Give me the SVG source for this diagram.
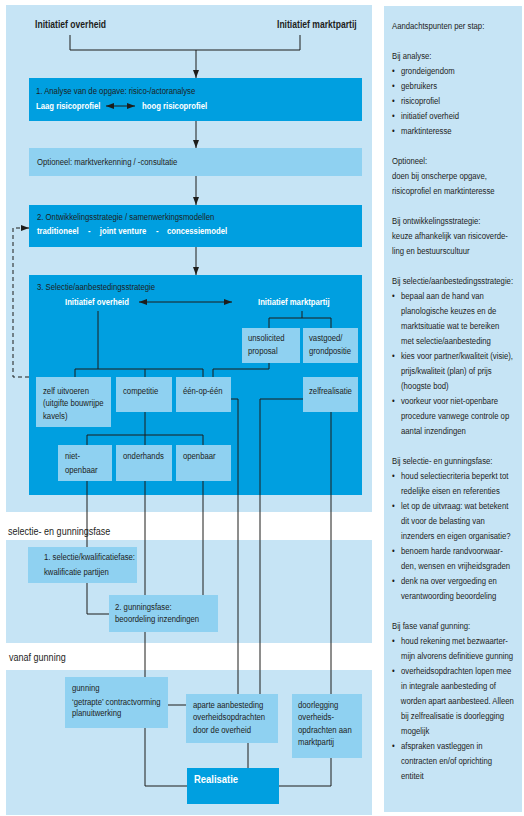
<svg xmlns="http://www.w3.org/2000/svg" width="524" height="816" viewBox="0 0 524 816">
<style>
text{font-family:"Liberation Sans",Arial,sans-serif;font-size:9px;fill:#1d1d1b;transform-box:fill-box;transform-origin:0 50%;transform:scaleX(0.86)}
.w{fill:#fff;font-weight:bold}
.b{font-weight:bold}
.lbl{font-size:10.5px}
.top{font-size:10px}
.panel{fill:#c6e4f5}
.dk{fill:#009fe0}
.lt{fill:#8fd1f1}
.ln{fill:none;stroke:#1d1d1b;stroke-width:1}
.ar{marker-end:url(#ah)}
.dbl{marker-start:url(#ah);marker-end:url(#ah)}
</style>
<defs>
<marker id="ah" viewBox="0 0 8 6" refX="8" refY="3" markerWidth="8" markerHeight="6" markerUnits="userSpaceOnUse" orient="auto-start-reverse"><path d="M0,0 L8,3 L0,6 z" fill="#1d1d1b"/></marker>
</defs>
<rect width="524" height="816" fill="#fff"/>
<!-- panels -->
<rect class="panel" x="6" y="5" width="366" height="507"/>
<rect class="panel" x="6" y="540" width="366" height="103"/>
<rect class="panel" x="6" y="670" width="366" height="145"/>
<rect class="panel" x="384" y="6" width="138" height="806"/>
<text class="lbl" x="8" y="535">selectie- en gunningsfase</text>
<text class="lbl" x="9" y="661">vanaf gunning</text>

<g id="start">
<text class="b top" x="35" y="28">Initiatief overheid</text>
<text class="b top" x="277" y="28">Initiatief marktpartij</text>
</g>

<g id="analyse">
<rect class="dk" x="29" y="78" width="333" height="43"/>
<text x="36" y="94">1. Analyse van de opgave: risico-/actoranalyse</text>
<text class="w" x="36" y="109">Laag risicoprofiel</text>
<text class="w" x="142" y="109">hoog risicoprofiel</text>
</g>

<g id="optioneel">
<rect class="lt" x="29" y="148" width="333" height="28"/>
<text x="37" y="165">Optioneel: marktverkenning / -consultatie</text>
</g>

<g id="ontwikkeling">
<rect class="dk" x="29" y="205" width="333" height="42"/>
<text x="37" y="220">2. Ontwikkelingsstrategie / samenwerkingsmodellen</text>
<text class="w" x="37" y="234.5">traditioneel</text>
<text class="w" x="88" y="234.5">-</text>
<text class="w" x="100" y="234.5">joint venture</text>
<text class="w" x="156" y="234.5">-</text>
<text class="w" x="167" y="234.5">concessiemodel</text>
</g>

<g id="selectie">
<rect class="dk" x="29" y="275" width="333" height="220"/>
<text x="37" y="290">3. Selectie/aanbestedingsstrategie</text>
<text class="w" x="65" y="305.5">Initiatief overheid</text>
<text class="w" x="258" y="305.5">Initiatief marktpartij</text>
</g>

<g id="unsolicited">
<rect class="lt" x="242" y="328" width="58" height="35"/>
<text x="248" y="341.5">unsolicited</text>
<text x="248" y="354.5">proposal</text>
</g>
<g id="vastgoed">
<rect class="lt" x="303" y="328" width="55" height="35"/>
<text x="309" y="341.5">vastgoed/</text>
<text x="309" y="354.5">grondpositie</text>
</g>
<g id="zelfuitvoeren">
<rect class="lt" x="36" y="377" width="75" height="50"/>
<text x="43" y="394">zelf uitvoeren</text>
<text x="43" y="406.5">(uitgifte bouwrijpe</text>
<text x="43" y="419">kavels)</text>
</g>
<g id="competitie">
<rect class="lt" x="116" y="377" width="56" height="35"/>
<text x="123" y="394">competitie</text>
</g>
<g id="eenopeen">
<rect class="lt" x="176" y="377" width="55" height="35"/>
<text x="183" y="394">één-op-één</text>
</g>
<g id="zelfrealisatie">
<rect class="lt" x="303" y="377" width="55" height="35"/>
<text x="309" y="394">zelfrealisatie</text>
</g>
<g id="nietopenbaar">
<rect class="lt" x="58" y="445" width="54" height="36"/>
<text x="65" y="459">niet-</text>
<text x="65" y="473">openbaar</text>
</g>
<g id="onderhands">
<rect class="lt" x="116" y="445" width="56" height="36"/>
<text x="123" y="459">onderhands</text>
</g>
<g id="openbaar">
<rect class="lt" x="176" y="445" width="55" height="36"/>
<text x="183" y="459">openbaar</text>
</g>

<g id="kwalificatie">
<rect class="lt" x="28" y="547" width="109" height="36"/>
<text x="44" y="560.5">1. selectie/kwalificatiefase:</text>
<text x="44" y="575.5">kwalificatie partijen</text>
</g>
<g id="gunningsfase">
<rect class="lt" x="109" y="595" width="109" height="37"/>
<text x="115" y="610">2. gunningsfase:</text>
<text x="115" y="622.5">beoordeling inzendingen</text>
</g>

<g id="gunning">
<rect class="lt" x="65" y="677" width="103" height="51"/>
<text x="72" y="691.5">gunning</text>
<text x="72" y="705">‘getrapte’ contractvorming</text>
<text x="72" y="716.5">planuitwerking</text>
</g>
<g id="aparte">
<rect class="lt" x="186" y="694" width="92" height="49"/>
<text x="193" y="708">aparte aanbesteding</text>
<text x="193" y="720.5">overheidsopdrachten</text>
<text x="193" y="733">door de overheid</text>
</g>
<g id="doorlegging">
<rect class="lt" x="292" y="694" width="70" height="64"/>
<text x="298" y="708">doorlegging</text>
<text x="298" y="720.5">overheids-</text>
<text x="298" y="733">opdrachten aan</text>
<text x="298" y="745.5">marktpartij</text>
</g>
<g id="realisatie">
<rect class="dk" x="187" y="768" width="92" height="36"/>
<text class="w" x="194" y="783" style="font-size:11px">Realisatie</text>
</g>

<g id="connectors">
<path class="ln" d="M70,35 V50 H300 V35"/>
<path class="ln ar" d="M196,50 V78"/>
<path class="ln ar" d="M196,121 V148"/>
<path class="ln ar" d="M196,176 V205"/>
<path class="ln ar" d="M196,247 V275"/>
<path class="ln" d="M29,377 H13 V228 H22" stroke-dasharray="4,3"/>
<path class="ln ar" d="M21,228 H29"/>
<path class="ln" d="M98,311 V369 M75,377 V369 H203 V377 M145,369 V377"/>
<path class="ln" d="M302,311 V318 M269,328 V318 H331 V328"/>
<path class="ln" d="M269,363 V369 H213 V377"/>
<path class="ln" d="M145,412 V435 M87,445 V435 H203 V445 M145,435 V445"/>
<path class="ln" d="M231,399 H238 V694"/>
<path class="ln" d="M303,399 H260 V694"/>
<path class="ln" d="M331,412 V694"/>
<path class="ln" d="M87,481 V547"/>
<path class="ln" d="M145,481 V595"/>
<path class="ln" d="M203,481 V595"/>
<path class="ln" d="M87,583 V614 H109"/>
<path class="ln" d="M145,632 V677"/>
<path class="ln" d="M168,705 H186"/>
<path class="ln" d="M248,743 V768"/>
<path class="ln" d="M145,728 V786 H187"/>
<path class="ln" d="M331,758 V786 H279"/>
<path class="ln dbl" d="M106,106 H135"/>
<path class="ln dbl" d="M139,302 H232"/>
</g>

<g id="aandachtspunten">
<text x="392" y="29">Aandachtspunten per stap:</text>
<text x="392" y="59">Bij analyse:</text>
<text x="392" y="74">•</text><text x="401" y="74">grondeigendom</text>
<text x="392" y="89">•</text><text x="401" y="89">gebruikers</text>
<text x="392" y="104">•</text><text x="401" y="104">risicoprofiel</text>
<text x="392" y="119">•</text><text x="401" y="119">initiatief overheid</text>
<text x="392" y="134">•</text><text x="401" y="134">marktinteresse</text>
<text x="392" y="164">Optioneel:</text>
<text x="392" y="179">doen bij onscherpe opgave,</text>
<text x="392" y="194">risicoprofiel en marktinteresse</text>
<text x="392" y="224">Bij ontwikkelingsstrategie:</text>
<text x="392" y="239">keuze afhankelijk van risicoverde-</text>
<text x="392" y="254">ling en bestuurscultuur</text>
<text x="392" y="284">Bij selectie/aanbestedingsstrategie:</text>
<text x="392" y="299">•</text><text x="401" y="299">bepaal aan de hand van</text>
<text x="401" y="314">planologische keuzes en de</text>
<text x="401" y="329">marktsituatie wat te bereiken</text>
<text x="401" y="344">met selectie/aanbesteding</text>
<text x="392" y="359">•</text><text x="401" y="359">kies voor partner/kwaliteit (visie),</text>
<text x="401" y="374">prijs/kwaliteit (plan) of prijs</text>
<text x="401" y="389">(hoogste bod)</text>
<text x="392" y="404">•</text><text x="401" y="404">voorkeur voor niet-openbare</text>
<text x="401" y="419">procedure vanwege controle op</text>
<text x="401" y="434">aantal inzendingen</text>
<text x="392" y="464">Bij selectie- en gunningsfase:</text>
<text x="392" y="479">•</text><text x="401" y="479">houd selectiecriteria beperkt tot</text>
<text x="401" y="494">redelijke eisen en referenties</text>
<text x="392" y="509">•</text><text x="401" y="509">let op de uitvraag: wat betekent</text>
<text x="401" y="524">dit voor de belasting van</text>
<text x="401" y="539">inzenders en eigen organisatie?</text>
<text x="392" y="554">•</text><text x="401" y="554">benoem harde randvoorwaar-</text>
<text x="401" y="569">den, wensen en vrijheidsgraden</text>
<text x="392" y="584">•</text><text x="401" y="584">denk na over vergoeding en</text>
<text x="401" y="599">verantwoording beoordeling</text>
<text x="392" y="629">Bij fase vanaf gunning:</text>
<text x="392" y="644">•</text><text x="401" y="644">houd rekening met bezwaarter-</text>
<text x="401" y="659">mijn alvorens definitieve gunning</text>
<text x="392" y="674">•</text><text x="401" y="674">overheidsopdrachten lopen mee</text>
<text x="401" y="689">in integrale aanbesteding of</text>
<text x="401" y="704">worden apart aanbesteed. Alleen</text>
<text x="401" y="719">bij zelfrealisatie is doorlegging</text>
<text x="401" y="734">mogelijk</text>
<text x="392" y="749">•</text><text x="401" y="749">afspraken vastleggen in</text>
<text x="401" y="764">contracten en/of oprichting</text>
<text x="401" y="779">entiteit</text>
</g>
</svg>
